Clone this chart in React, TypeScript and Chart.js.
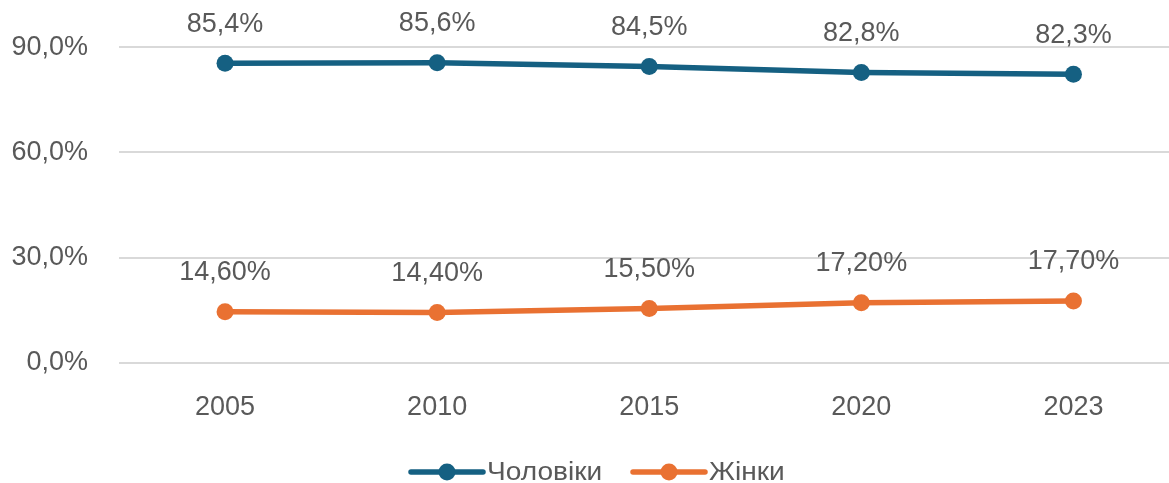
import React, { useEffect, useRef } from "react";
import { Chart, registerables } from "chart.js";

Chart.register(...registerables);

const categories = ["2005", "2010", "2015", "2020", "2023"];
const menValues = [85.4, 85.6, 84.5, 82.8, 82.3];
const womenValues = [14.6, 14.4, 15.5, 17.2, 17.7];
const menLabels = ["85,4%", "85,6%", "84,5%", "82,8%", "82,3%"];
const womenLabels = ["14,60%", "14,40%", "15,50%", "17,20%", "17,70%"];
const seriesNames = ["Чоловіки", "Жінки"];
const yTicks = [0, 30, 60, 90];

const BLUE = "#156082";
const ORANGE = "#E97132";
const TEXT = "#595959";
const FONT = "'Liberation Sans', Arial, sans-serif";

const labelPlugin = {
  id: "customLabels",
  afterDatasetsDraw(chart: any) {
    const ctx = chart.ctx;
    ctx.save();
    ctx.font = `27px ${FONT}`;
    ctx.fillStyle = TEXT;
    ctx.textAlign = "center";
    ctx.textBaseline = "middle";
    const sets = [menLabels, womenLabels];
    chart.data.datasets.forEach((ds: any, i: number) => {
      const meta = chart.getDatasetMeta(i);
      meta.data.forEach((pt: any, j: number) => {
        ctx.fillText(sets[i][j], pt.x, pt.y - 39);
      });
    });
    ctx.restore();
  },
  afterDraw(chart: any) {
    const ctx = chart.ctx;
    ctx.save();
    const y = 472;
    const items = [
      { x0: 411, x1: 483, color: BLUE, text: seriesNames[0], tx: 487 },
      { x0: 633, x1: 705, color: ORANGE, text: seriesNames[1], tx: 709 },
    ];
    ctx.font = `26px ${FONT}`;
    ctx.textBaseline = "middle";
    ctx.textAlign = "left";
    items.forEach((it) => {
      ctx.strokeStyle = it.color;
      ctx.lineWidth = 5.5;
      ctx.lineCap = "round";
      ctx.beginPath();
      ctx.moveTo(it.x0, y);
      ctx.lineTo(it.x1, y);
      ctx.stroke();
      ctx.fillStyle = it.color;
      ctx.beginPath();
      ctx.arc((it.x0 + it.x1) / 2, y, 8.5, 0, Math.PI * 2);
      ctx.fill();
      ctx.fillStyle = TEXT;
      ctx.save();
      ctx.translate(it.tx, y + 1);
      ctx.scale(1.08, 1);
      ctx.fillText(it.text, 0, 0);
      ctx.restore();
    });
    ctx.restore();
  },
};

export default function App() {
  const ref = useRef<HTMLCanvasElement>(null);
  useEffect(() => {
    if (!ref.current) return;
    const chart = new Chart(ref.current, {
      type: "line",
      data: {
        labels: categories,
        datasets: [
          {
            label: seriesNames[0],
            data: menValues,
            borderColor: BLUE,
            backgroundColor: BLUE,
            borderWidth: 5.5,
            pointRadius: 8.5,
            pointBorderWidth: 0,
            pointBackgroundColor: BLUE,
            tension: 0,
          },
          {
            label: seriesNames[1],
            data: womenValues,
            borderColor: ORANGE,
            backgroundColor: ORANGE,
            borderWidth: 5.5,
            pointRadius: 8.5,
            pointBorderWidth: 0,
            pointBackgroundColor: ORANGE,
            tension: 0,
          },
        ],
      },
      options: {
        responsive: false,
        animation: false,
        layout: { padding: { top: 47, left: 0, right: 0, bottom: 0 } },
        plugins: { legend: { display: false }, tooltip: { enabled: false } },
        scales: {
          x: {
            offset: true,
            grid: { display: false, drawTicks: false },
            border: { display: false },
            ticks: {
              padding: 28,
              color: TEXT,
              font: { family: FONT, size: 27 },
            },
            afterFit(scale: any) {
              scale.height = 120;
            },
          },
          y: {
            min: 0,
            max: 90,
            afterBuildTicks(scale: any) {
              scale.ticks = yTicks.map((v) => ({ value: v }));
            },
            grid: { color: "#D9D9D9", lineWidth: 2, drawTicks: false },
            border: { display: false },
            ticks: {
              padding: 31,
              color: TEXT,
              font: { family: FONT, size: 27 },
              callback: (v: any) => Number(v).toFixed(1).replace(".", ",") + "%",
            },
            afterFit(scale: any) {
              scale.width = 119;
            },
          },
        },
      },
      plugins: [labelPlugin],
    });
    return () => chart.destroy();
  }, []);
  return (
    <div
      style={{
        position: "fixed",
        left: 0,
        top: 0,
        width: 1169,
        height: 483,
        overflow: "hidden",
        background: "#fff",
      }}
    >
      <canvas ref={ref} width={1188} height={483} style={{ display: "block" }} />
    </div>
  );
}
